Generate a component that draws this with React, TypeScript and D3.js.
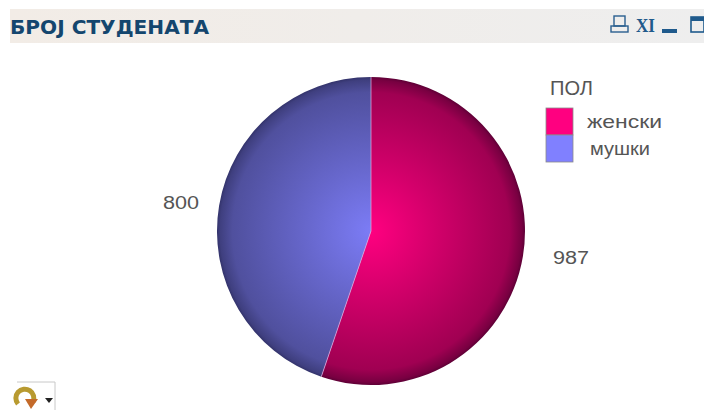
import React from "react";
import * as d3 from "d3";

const categories = ["женски", "мушки"];
const values = [987, 800];
const edgeColors = ["#5e0036", "#33336b"];
const midColors = ["#a00052", "#50509e"];
const centerColors = ["#ff0080", "#7c7cf6"];
const legendColors = ["#ff0080", "#8080ff"];
const title = "БРОЈ СТУДЕНАТА";
const legendTitle = "ПОЛ";

const W = 704, H = 410;
const cx = 371, cy = 231, R = 154;

export default function App() {
  const pie = d3.pie<number>().sort(null).startAngle(0).endAngle(2 * Math.PI);
  const arcs = pie(values);
  const arc = d3.arc<d3.PieArcDatum<number>>().innerRadius(0).outerRadius(R);
  const labelPositions = [[571, 259], [181, 204]];
  const legendLabelX = [587, 590];
  const legendLabelLen = [75, 60];
  const font = "'Liberation Sans', Arial, sans-serif";
  return (
    <svg width={W} height={H} viewBox={`0 0 ${W} ${H}`}
      style={{ position: "fixed", left: 0, top: 0, background: "#fff", display: "block" }}>
      <defs>
        {categories.map((c, i) => (
          <radialGradient key={c} id={`g${i}`} gradientUnits="userSpaceOnUse" cx={0} cy={0} r={R}>
            <stop offset="0" stopColor={centerColors[i]} />
            <stop offset="0.4" stopColor={d3.interpolateRgb(centerColors[i], midColors[i])(0.45)} />
            <stop offset="0.9" stopColor={midColors[i]} />
            <stop offset="0.98" stopColor={d3.interpolateRgb(midColors[i], edgeColors[i])(0.6)} />
            <stop offset="1" stopColor={edgeColors[i]} />
          </radialGradient>
        ))}
        <linearGradient id="band" x1="0" x2="1" y1="0" y2="0">
          <stop offset="0" stopColor="#f2ece6" />
          <stop offset="1" stopColor="#eeeeee" />
        </linearGradient>
      </defs>
      <rect x={10} y={9} width={694} height={34} fill="url(#band)" />
      <text x={10} y={34} fontFamily="'DejaVu Sans Condensed','DejaVu Sans',sans-serif" fontWeight="bold"
        fontSize={19} fill="#14466e" textLength={199} lengthAdjust="spacingAndGlyphs">{title}</text>
      {/* caption icons */}
      <g stroke="#2a5f8f" strokeWidth={1.4} fill="none">
        <rect x={614} y={16} width={11} height={10} />
        <rect x={611} y={26} width={17} height={6} />
      </g>
      <text x={636} y={32} fontFamily="'Liberation Serif',serif" fontWeight="bold" fontSize={19}
        fill="#1f5a8c" textLength={19} lengthAdjust="spacingAndGlyphs">XI</text>
      <rect x={662} y={29} width={15} height={4} fill="#1f5a8c" />
      <rect x={691} y={17} width={13} height={15} fill="none" stroke="#1f5a8c" strokeWidth={1.6} />
      <rect x={691} y={17} width={13} height={4} fill="#1f5a8c" />
      {/* pie */}
      <g transform={`translate(${cx},${cy})`}>
        {arcs.map((a, i) => (
          <path key={i} d={arc(a) ?? ""} fill={`url(#g${i})`} />
        ))}
        {arcs.map((a, i) => (
          <line key={i} x1={0} y1={0}
            x2={R * Math.sin(a.startAngle)} y2={-R * Math.cos(a.startAngle)}
            stroke="#d8a0d8" strokeWidth={1} strokeOpacity={0.8} />
        ))}
      </g>
      {values.map((v, i) => (
        <text key={i} x={labelPositions[i][0]} y={labelPositions[i][1]} textAnchor="middle"
          dominantBaseline="middle" fontFamily={font} fontSize={18} fill="#555"
          textLength={36} lengthAdjust="spacingAndGlyphs">{v}</text>
      ))}
      {/* legend */}
      <text x={550} y={95} fontFamily={font} fontSize={20} fill="#555" textLength={43} lengthAdjust="spacingAndGlyphs">{legendTitle}</text>
      {categories.map((c, i) => (
        <g key={c}>
          <rect x={546} y={108 + i * 27} width={27} height={27} fill={legendColors[i]} stroke="#8a8a8a" strokeWidth={0.8} />
          <text x={legendLabelX[i]} y={128 + i * 27} fontFamily={font} fontSize={19} fill="#555"
            textLength={legendLabelLen[i]} lengthAdjust="spacingAndGlyphs">{c}</text>
        </g>
      ))}
      {/* cycle button */}
      <path d="M 17 382 H 55 V 410" fill="none" stroke="#c8c8c8" strokeWidth={1} />
      <path d="M 18 404 A 9 9 0 1 1 33 402" fill="none" stroke="#b89a30" strokeWidth={5} />
      <path d="M 25 399 L 38 399 L 31 409 Z" fill="#c46a2a" />
      <path d="M 45 398 L 53 398 L 49 403 Z" fill="#222" />
    </svg>
  );
}
